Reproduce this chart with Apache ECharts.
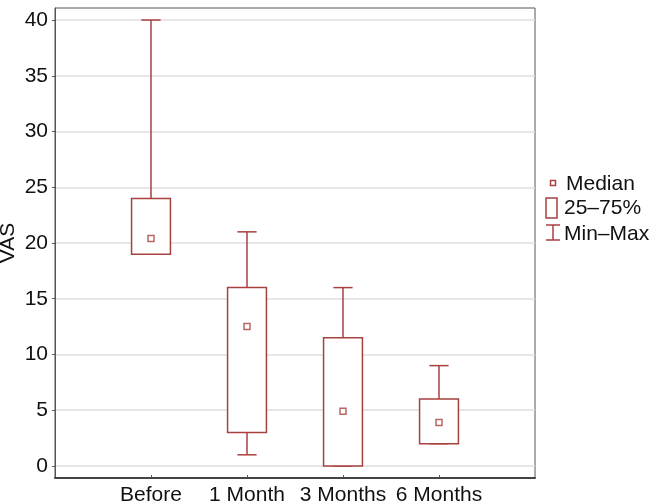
<!DOCTYPE html>
<html>
<head>
<meta charset="utf-8">
<script src="https://cdn.jsdelivr.net/npm/echarts@6/dist/echarts.min.js"></script>
<style>html,body{margin:0;padding:0;background:#fff}#c{width:660px;height:504px}</style>
</head>
<body>
<div id="c"></div>
<script>
var categories = ['Before', '1 Month', '3 Months', '6 Months'];
var minVals    = [19, 1, 0, 2];
var q1Vals     = [19, 3, 0, 2];
var medianVals = [20.4, 12.5, 4.9, 3.9];
var q3Vals     = [24, 16, 11.5, 6];
var maxVals    = [40, 21, 16, 9];
var yTicks     = [0, 5, 10, 15, 20, 25, 30, 35, 40];

var RED = '#a8403e';
var FONT = 'Liberation Sans, Arial, sans-serif';
var chart = echarts.init(document.getElementById('c'));

var boxData = categories.map(function (c, i) { return [i + 1, q1Vals[i], q3Vals[i]]; });
var whiskerData = categories.map(function (c, i) { return [i + 1, minVals[i], q1Vals[i], q3Vals[i], maxVals[i]]; });
var medData = categories.map(function (c, i) { return [i + 1, medianVals[i]]; });

function legendText(x, y, t) {
  return { type: 'text', style: { x: x, y: y, text: t, fontSize: 21, fill: '#111', fontFamily: FONT, verticalAlign: 'middle', align: 'left' } };
}

chart.setOption({
  animation: false,
  textStyle: { fontFamily: FONT },
  grid: { left: 55, right: 125, top: 8, bottom: 26, show: true, borderColor: '#555', borderWidth: 1, containLabel: false, outerBoundsMode: 'none' },
  xAxis: {
    type: 'value', min: 0, max: 5, interval: 1,
    axisLine: { show: true, onZero: false, lineStyle: { color: '#444', width: 2 } },
    axisTick: { show: true, inside: true, length: 3, lineStyle: { color: '#555' } },
    splitLine: { show: false },
    axisLabel: {
      color: '#111', fontSize: 21, margin: 7, showMinLabel: false, showMaxLabel: false,
      formatter: function (v) { return categories[v - 1] || ''; }
    }
  },
  yAxis: {
    type: 'value', min: -1.08, max: 41.08,
    name: 'VAS', nameLocation: 'middle', nameGap: 36, nameRotate: 90, nameMoveOverlap: false,
    nameTextStyle: { color: '#111', fontSize: 21 },
    axisLine: { show: true, lineStyle: { color: '#555' } },
    axisTick: { show: true, length: 3, customValues: yTicks, lineStyle: { color: '#555' } },
    axisLabel: { color: '#111', fontSize: 21, margin: 7, customValues: yTicks },
    splitLine: { show: true, lineStyle: { color: '#dedede', width: 1.5 } }
  },
  series: [
    {
      type: 'custom', name: 'Min–Max', data: whiskerData, z: 2,
      renderItem: function (params, api) {
        var x = api.value(0);
        var pMin = api.coord([x, api.value(1)]);
        var pQ1 = api.coord([x, api.value(2)]);
        var pQ3 = api.coord([x, api.value(3)]);
        var pMax = api.coord([x, api.value(4)]);
        var hw = api.size([0.2, 0])[0] / 2;
        var st = { stroke: RED, lineWidth: 1.5, fill: null };
        return { type: 'group', children: [
          { type: 'line', shape: { x1: pQ3[0], y1: pQ3[1], x2: pMax[0], y2: pMax[1] }, style: st },
          { type: 'line', shape: { x1: pMax[0] - hw, y1: pMax[1], x2: pMax[0] + hw, y2: pMax[1] }, style: st },
          { type: 'line', shape: { x1: pQ1[0], y1: pQ1[1], x2: pMin[0], y2: pMin[1] }, style: st },
          { type: 'line', shape: { x1: pMin[0] - hw, y1: pMin[1], x2: pMin[0] + hw, y2: pMin[1] }, style: st }
        ]};
      }
    },
    {
      type: 'custom', name: '25–75%', data: boxData, z: 3,
      renderItem: function (params, api) {
        var x = api.value(0);
        var pLo = api.coord([x, api.value(1)]);
        var pHi = api.coord([x, api.value(2)]);
        var w = api.size([0.405, 0])[0];
        return { type: 'rect', shape: { x: pHi[0] - w / 2, y: pHi[1], width: w, height: pLo[1] - pHi[1] },
          style: { stroke: RED, lineWidth: 1.5, fill: '#fff' } };
      }
    },
    {
      type: 'scatter', name: 'Median', data: medData, z: 4,
      symbol: 'rect', symbolSize: 6,
      itemStyle: { color: '#fff', borderColor: RED, borderWidth: 1.5 }
    }
  ],
  graphic: [
    { type: 'rect', shape: { x: 550.5, y: 180.5, width: 5, height: 5 }, style: { fill: '#fff', stroke: RED, lineWidth: 1.5 } },
    legendText(566, 184, 'Median'),
    { type: 'rect', shape: { x: 546, y: 198, width: 11, height: 20 }, style: { fill: '#fff', stroke: RED, lineWidth: 1.5 } },
    legendText(564, 208, '25–75%'),
    { type: 'polyline', shape: { points: [[546, 225], [560, 225]] }, style: { stroke: RED, lineWidth: 1.5 } },
    { type: 'polyline', shape: { points: [[553, 225], [553, 240]] }, style: { stroke: RED, lineWidth: 1.5 } },
    { type: 'polyline', shape: { points: [[546, 240], [560, 240]] }, style: { stroke: RED, lineWidth: 1.5 } },
    legendText(564, 234, 'Min–Max')
  ]
});
</script>
</body>
</html>
